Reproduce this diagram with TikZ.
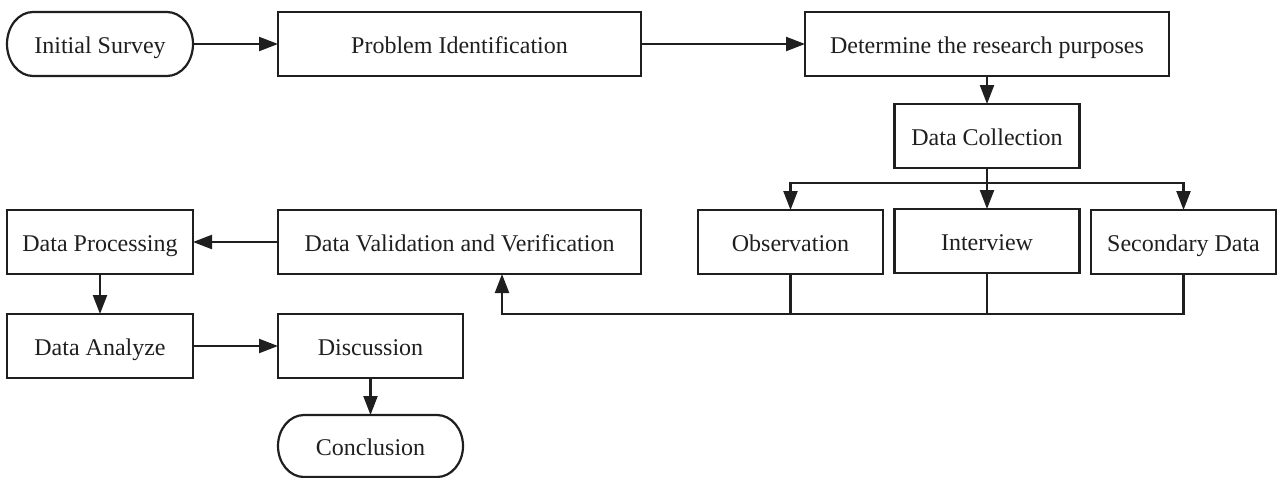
\documentclass[tikz,border=0pt]{standalone}
\usepackage{fontspec}
\setmainfont{Liberation Serif}
\usetikzlibrary{arrows.meta}
\tikzset{
  ln/.style={line width=1.1pt, color=black!88},
  box/.style={ln, draw, inner sep=0pt, outer sep=0pt, minimum height=32pt,
    font=\fontsize{12}{14}\selectfont, text=black!88, text height=10pt, text depth=1pt},
  term/.style={box, draw=none},
  arr/.style={ln, -{Triangle[length=9.5pt,width=7pt]}},
}
\newcommand\stadiumpath[3]{%
  \draw[ln] ([xshift=#2]#1.north west) arc[start angle=90,end angle=270,x radius=#2,y radius=#3]
    -- ([xshift=-#2]#1.south east) arc[start angle=-90,end angle=90,x radius=#2,y radius=#3] -- cycle;}
\begin{document}
\begin{tikzpicture}[x=0.5pt,y=-0.5pt]
\useasboundingbox (0,0) rectangle (1277,477);
% top row
\node[term, minimum width=93pt] (IS) at (100,44) {Initial Survey};
\stadiumpath{IS}{13pt}{16pt}
\node[box, minimum width=181.5pt] (PI) at (459.5,44) {Problem Identification};
\node[box, minimum width=182pt] (DR) at (987,44) {Determine the research purposes};
\node[box, minimum width=92.5pt] (DC) at (987,136) {Data Collection};
% second row
\node[box, minimum width=92.5pt] (OB) at (790.5,242) {Observation};
\node[box, minimum width=92.5pt] (IN) at (987,241) {Interview};
\node[box, minimum width=92.5pt] (SD) at (1183.5,242) {Secondary Data};
\node[box, minimum width=181.5pt] (DV) at (459.5,242) {Data Validation and Verification};
\node[box, minimum width=93pt] (DP) at (100,242) {Data Processing};
% third row
\node[box, minimum width=93pt] (DA) at (100,346) {Data Analyze};
\node[box, minimum width=92.5pt] (DI) at (370.5,346) {Discussion};
\node[term, minimum width=92.5pt, minimum height=31pt] (CO) at (370.5,446) {Conclusion};
\stadiumpath{CO}{13pt}{15.5pt}
% connectors
\draw[arr] (IS) -- (PI);
\draw[arr] (PI) -- (DR);
\draw[arr] (DR.south) -- (DC.north);
\coordinate (br) at (987,183);
\draw[arr] (DC.south) -- (IN.north);
\draw[arr] (br) -| (OB.north);
\draw[arr] (br) -| (SD.north);
\coordinate (bot) at (502,314);
\draw[ln] (OB.south) -- (OB.south |- bot);
\draw[ln] (IN.south) -- (IN.south |- bot);
\draw[arr] (SD.south) |- (bot) -- (DV.south -| bot);
\draw[arr] (DV) -- (DP);
\draw[arr] (DP) -- (DA);
\draw[arr] (DA) -- (DI);
\draw[arr] (DI) -- (CO);
\end{tikzpicture}
\end{document}
